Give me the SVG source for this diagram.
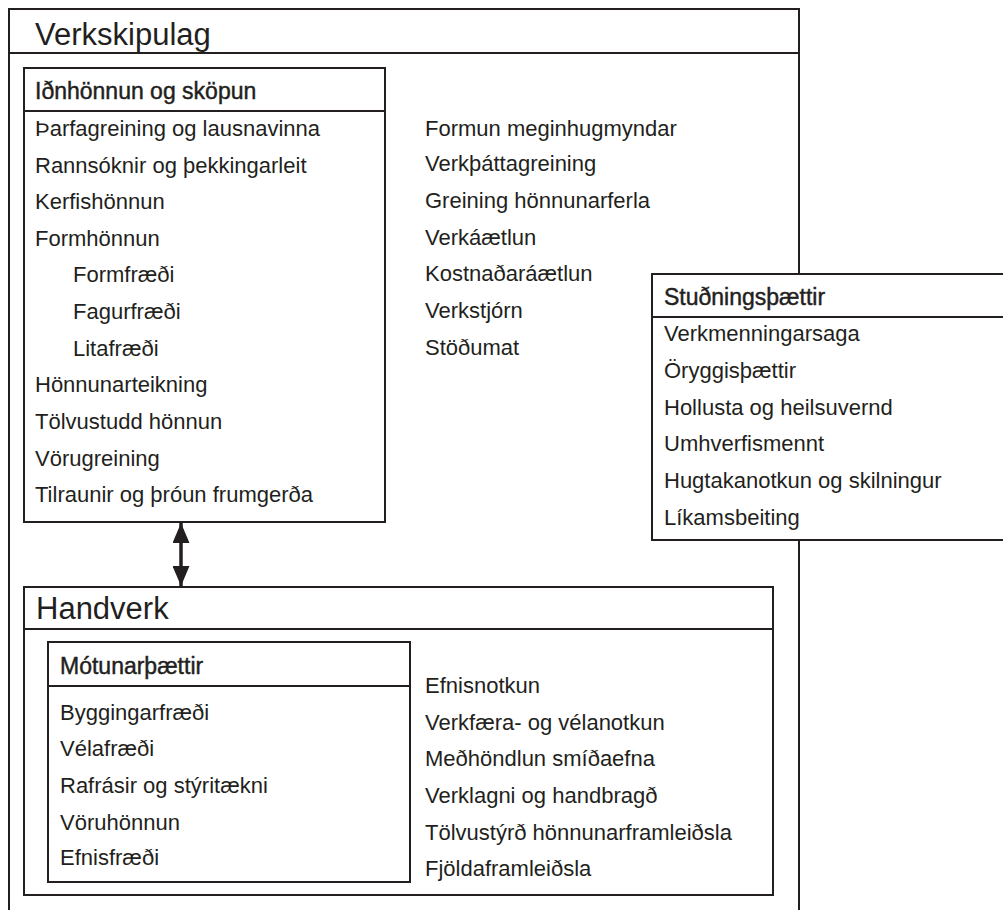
<svg xmlns="http://www.w3.org/2000/svg" width="1003" height="910" viewBox="0 0 1003 910">
<style>
.box{fill:#fff;stroke:#231f20;stroke-width:2}
.ln{stroke:#231f20;stroke-width:2;fill:none}
text{font-family:"Liberation Sans",Arial,sans-serif;fill:#231f20}
.t{font-size:31px}
.h{font-size:23px;stroke:#231f20;stroke-width:0.45}
.i{font-size:22px}
</style>
<defs>
<marker id="ah" viewBox="0 0 20 17" refX="20" refY="8.5" markerWidth="20" markerHeight="17" markerUnits="userSpaceOnUse" orient="auto-start-reverse">
<path d="M0,0 L20,8.5 L0,17 Z" fill="#231f20"/>
</marker>
</defs>
<g id="verkskipulag">
<path class="ln" d="M9,920 V9 H799 V920"/>
<line class="ln" x1="9" y1="53" x2="799" y2="53"/>
<text class="t" x="35" y="45">Verkskipulag</text>
<g class="i">
<text x="425" y="136">Formun meginhugmyndar</text>
<text x="425" y="171">Verkþáttagreining</text>
<text x="425" y="208">Greining hönnunarferla</text>
<text x="425" y="245">Verkáætlun</text>
<text x="425" y="281">Kostnaðaráætlun</text>
<text x="425" y="318">Verkstjórn</text>
<text x="425" y="355">Stöðumat</text>
</g>
</g>
<g id="idnhonnun">
<rect class="box" x="24" y="68" width="361" height="454"/>
<line class="ln" x1="24" y1="111" x2="385" y2="111"/>
<text class="h" x="35" y="99">Iðnhönnun og sköpun</text>
<g class="i">
<text x="35" y="136">Þarfagreining og lausnavinna</text>
<text x="35" y="173">Rannsóknir og þekkingarleit</text>
<text x="35" y="209">Kerfishönnun</text>
<text x="35" y="246">Formhönnun</text>
<text x="73" y="282">Formfræði</text>
<text x="73" y="319">Fagurfræði</text>
<text x="73" y="356">Litafræði</text>
<text x="35" y="392">Hönnunarteikning</text>
<text x="35" y="429">Tölvustudd hönnun</text>
<text x="35" y="466">Vörugreining</text>
<text x="35" y="502">Tilraunir og þróun frumgerða</text>
</g>
</g>
<g id="studningsthaettir">
<rect class="box" x="652" y="274" width="370" height="266"/>
<line class="ln" x1="652" y1="317" x2="1010" y2="317"/>
<text class="h" x="664" y="305">Stuðningsþættir</text>
<g class="i">
<text x="664" y="341">Verkmenningarsaga</text>
<text x="664" y="378">Öryggisþættir</text>
<text x="664" y="415">Hollusta og heilsuvernd</text>
<text x="664" y="451">Umhverfismennt</text>
<text x="664" y="488">Hugtakanotkun og skilningur</text>
<text x="664" y="525">Líkamsbeiting</text>
</g>
</g>
<g id="handverk">
<rect class="box" x="24" y="587" width="749" height="308"/>
<line class="ln" x1="24" y1="629" x2="773" y2="629"/>
<text class="t" x="36" y="619">Handverk</text>
<g class="i">
<text x="425" y="693">Efnisnotkun</text>
<text x="425" y="730">Verkfæra- og vélanotkun</text>
<text x="425" y="766">Meðhöndlun smíðaefna</text>
<text x="425" y="803">Verklagni og handbragð</text>
<text x="425" y="840">Tölvustýrð hönnunarframleiðsla</text>
<text x="425" y="876">Fjöldaframleiðsla</text>
</g>
</g>
<g id="motunarthaettir">
<rect class="box" x="48" y="642" width="362" height="240"/>
<line class="ln" x1="48" y1="686" x2="410" y2="686"/>
<text class="h" x="60" y="674">Mótunarþættir</text>
<g class="i">
<text x="60" y="720">Byggingarfræði</text>
<text x="60" y="756">Vélafræði</text>
<text x="60" y="793">Rafrásir og stýritækni</text>
<text x="60" y="830">Vöruhönnun</text>
<text x="60" y="865">Efnisfræði</text>
</g>
</g>
<g id="connectors">
<line x1="181" y1="523" x2="181" y2="586" stroke="#231f20" stroke-width="3.5" marker-start="url(#ah)" marker-end="url(#ah)"/>
</g>
</svg>
